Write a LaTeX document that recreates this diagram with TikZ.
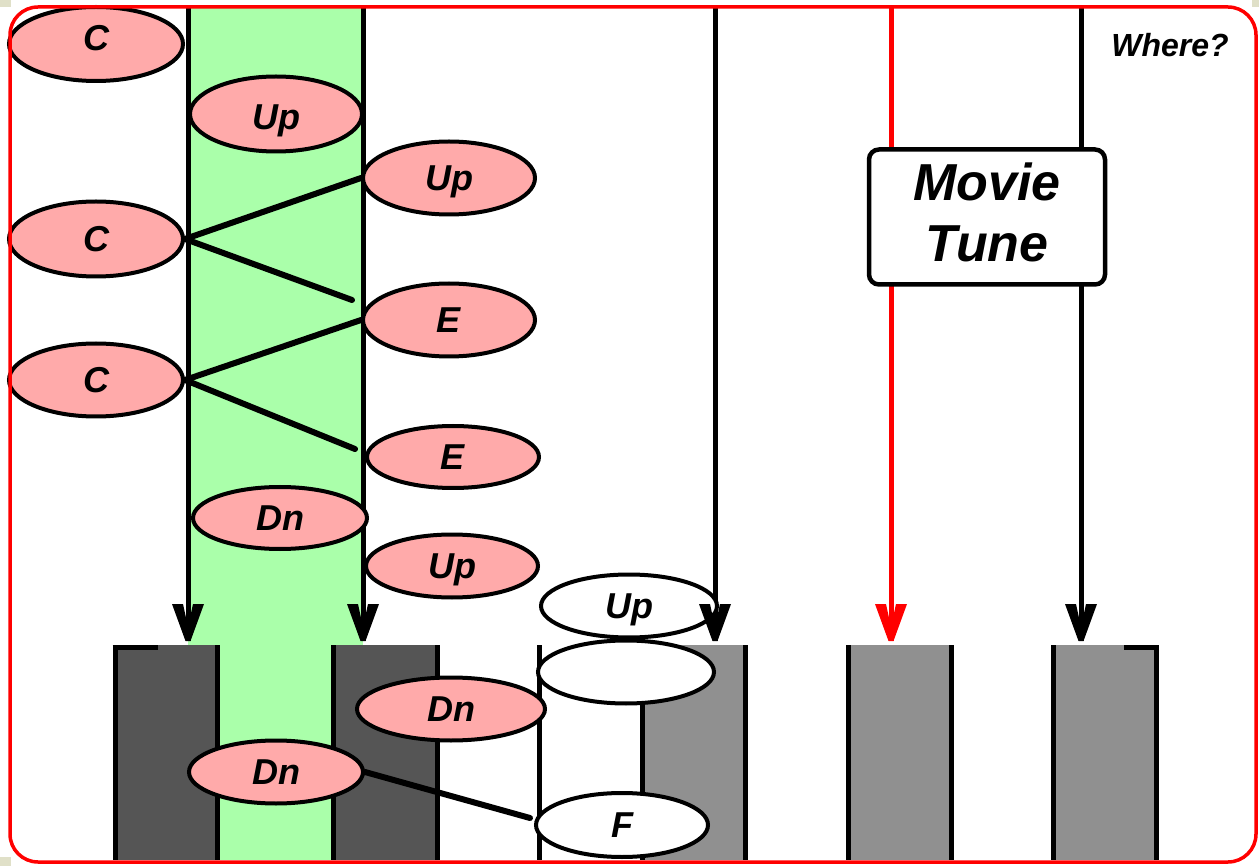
\documentclass[tikz,border=0pt]{standalone}
\usepackage{fontspec}
\setmainfont{Liberation Sans}
\usetikzlibrary{shapes.geometric}
\definecolor{pinkfill}{HTML}{FFAAAA}
\definecolor{bandgreen}{HTML}{AAFFAA}
\definecolor{darkkey}{HTML}{555555}
\definecolor{lightkey}{HTML}{909090}
\definecolor{beige}{HTML}{E0E0C8}
\tikzset{
  note/.style={ellipse, draw, line width=4pt, fill=pinkfill, inner sep=0pt,
    font=\fontsize{36}{42}\selectfont\bfseries\itshape, text height=25.5pt, text depth=0pt},
  blanknote/.style={note, fill=white},
  vline/.style={line width=5pt},
  keyline/.style={line width=5pt},
  link/.style={line width=6pt, line cap=round},
  vtip/.pic={\fill[pic actions] (-16,-37) -- (-5,-37) -- (0,-14) -- (5,-37) -- (16,-37) -- (2.5,0) -- (-2.5,0) -- cycle;}
}
\begin{document}
\begin{tikzpicture}[x=1pt,y=-1pt]
\useasboundingbox (0,0) rectangle (1259,866);
\fill[white] (0,0) rectangle (1259,866);
\fill[beige] (0,0) rectangle (11,7);
\fill[beige] (0,857) rectangle (11,866);
\fill[beige] (1252,0) rectangle (1259,7);
% green band
\fill[bandgreen] (188,7) rectangle (363,860);
% keys
\fill[darkkey] (115,645) rectangle (217,860);
\fill[darkkey] (333,645) rectangle (437,860);
\fill[lightkey] (642,645) rectangle (745,860);
\fill[lightkey] (848,645) rectangle (951,860);
\fill[lightkey] (1053,645) rectangle (1156,860);
\foreach \kx in {115,217,333,437,539,642,745,848,951,1053,1156}
  \draw[keyline] (\kx,645) -- (\kx,860);
\draw[line width=5pt] (112.5,647.5) -- (158,647.5);
\draw[line width=5pt] (1124,647.5) -- (1158.5,647.5);
% vertical lines
\coordinate (t1) at (188,7);   \coordinate (b1) at (188,641);
\coordinate (t2) at (363,7);   \coordinate (b2) at (363,641);
\coordinate (t3) at (715,7);   \coordinate (b3) at (715,641);
\coordinate (t4) at (891,7);   \coordinate (b4) at (891,641);
\coordinate (t5) at (1081,7);  \coordinate (b5) at (1081,641);
\draw[vline] (t1) -- (b1);
\draw[vline] (t2) -- (b2);
\draw[vline] (t3) -- (b3);
\draw[vline, red] (t4) -- (b4);
\draw[vline] (t5) -- (b5);
% ellipses
\node[note, minimum width=174pt, minimum height=74pt, text depth=12pt] (c1) at (96,44) {C};
\node[note, minimum width=172pt, minimum height=75pt, text height=31pt] (up1) at (276,114) {Up};
\node[note, minimum width=172pt, minimum height=73pt] (up2) at (449,178) {Up};
\node[note, minimum width=174pt, minimum height=75pt] (c2) at (96,239) {C};
\node[note, minimum width=172pt, minimum height=73pt] (e1) at (449,320) {E};
\node[note, minimum width=174pt, minimum height=73pt] (c3) at (96,380) {C};
\node[note, minimum width=172pt, minimum height=62pt] (e2) at (453,457) {E};
\node[note, minimum width=174pt, minimum height=62pt] (dn1) at (280,518) {Dn};
\node[note, minimum width=172pt, minimum height=63pt] (up3) at (452,566) {Up};
\node[blanknote, minimum width=176pt, minimum height=63pt] (upw) at (629,606) {Up};
\node[blanknote, minimum width=176pt, minimum height=63pt] (blank) at (626,672) {};
\node[note, minimum width=188pt, minimum height=63pt] (dn2) at (451,709) {Dn};
\node[note, minimum width=174pt, minimum height=63pt] (dn3) at (276,772) {Dn};
\node[blanknote, minimum width=172pt, minimum height=64pt] (f) at (622,825) {F};
% connectors
\coordinate (x1) at (352,300);
\coordinate (x2) at (355,449);
\coordinate (x3) at (530,818);
\draw[link] (c2.east) -- (up2.west);
\draw[link] (c2.east) -- (x1);
\draw[link] (c3.east) -- (e1.west);
\draw[link] (c3.east) -- (x2);
\draw[link] (dn3.east) -- (x3);
% arrow tips
\pic[black] at (b1) {vtip};
\pic[black] at (b2) {vtip};
\pic[black] at (b3) {vtip};
\pic[red] at (b4) {vtip};
\pic[black] at (b5) {vtip};
% movie box
\node[rectangle, rounded corners=10pt, draw, line width=4.5pt, fill=white,
  minimum width=236pt, minimum height=135pt, align=center, text depth=10pt,
  font=\fontsize{52}{61}\selectfont\bfseries\itshape] (movie) at (987,217) {Movie\\Tune};
\node[anchor=base, font=\fontsize{32}{38}\selectfont\bfseries\itshape] (where) at (1170,57) {Where?};
% border
\draw[red, line width=3.5pt, rounded corners=28pt] (10,7) rectangle (1256,862);
\end{tikzpicture}
\end{document}
